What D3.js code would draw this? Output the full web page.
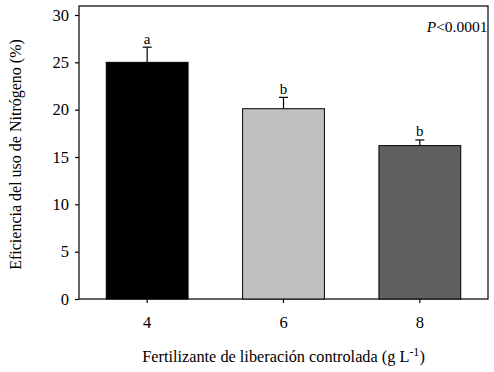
<!DOCTYPE html>
<html>
<head>
	<meta charset="utf-8">
	<title>Eficiencia del uso de nitrógeno</title>
	<script src="https://d3js.org/d3.v7.min.js"></script>
	<style>
		body { margin: 0; background: #fff; }
		text { font-family: "Liberation Serif", "Times New Roman", serif; fill: #000; }
	</style>
</head>
<body>
	<div class="chart"></div>

	<script type="text/javascript">
		// datos
		const doses = ['4', '6', '8']
		const means = [25.0, 20.1, 16.2]
		const errors = [1.6, 1.2, 0.6]
		const letters = ['a', 'b', 'b']
		const barColors = ['#000000', '#c0c0c0', '#606060']
		const yTicks = [0, 5, 10, 15, 20, 25, 30]

		const width = 494
		const height = 372
		const margin = { top: 6, right: 6, bottom: 73, left: 79 }

		const svg = d3.select('.chart').append('svg')
			.attr('width', width)
			.attr('height', height)

		const x = d3.scaleBand(doses, [margin.left, width - margin.right])
			.paddingInner(0.4)
			.paddingOuter(0.2)

		// 30 está en y=15, el marco llega un poco más arriba
		const y = d3.scaleLinear([0, 30], [height - margin.bottom, 15])

		// marco
		svg.append('rect')
			.attr('x', margin.left)
			.attr('y', margin.top)
			.attr('width', width - margin.right - margin.left)
			.attr('height', height - margin.bottom - margin.top)
			.attr('fill', 'none')
			.attr('stroke', '#000')
			.attr('stroke-width', 1.2)

		// barras
		svg.append('g')
			.selectAll('rect')
			.data(doses)
			.join('rect')
			.attr('x', d => x(d))
			.attr('y', (d, i) => y(means[i]))
			.attr('width', x.bandwidth())
			.attr('height', (d, i) => y(0) - y(means[i]))
			.attr('fill', (d, i) => barColors[i])
			.attr('stroke', '#000')
			.attr('stroke-width', 1)

		// barras de error (sólo hacia arriba)
		const eb = svg.append('g').attr('stroke', '#000').attr('stroke-width', 1.2)
		doses.forEach((d, i) => {
			const cx = x(d) + x.bandwidth() / 2
			eb.append('line')
				.attr('x1', cx).attr('x2', cx)
				.attr('y1', y(means[i])).attr('y2', y(means[i] + errors[i]))
			eb.append('line')
				.attr('x1', cx - 4.5).attr('x2', cx + 4.5)
				.attr('y1', y(means[i] + errors[i])).attr('y2', y(means[i] + errors[i]))
		})

		// letras
		svg.append('g')
			.selectAll('text')
			.data(doses)
			.join('text')
			.attr('x', d => x(d) + x.bandwidth() / 2)
			.attr('y', (d, i) => y(means[i] + errors[i]) - 3.5)
			.attr('text-anchor', 'middle')
			.attr('font-size', 15)
			.text((d, i) => letters[i])

		// ejes
		const yAxis = svg.append('g')
			.attr('transform', `translate(${margin.left},0)`)
			.call(d3.axisLeft(y).tickValues(yTicks).tickSize(4).tickPadding(6))
		yAxis.select('.domain').remove()
		yAxis.selectAll('text').attr('font-size', 16.5).attr('font-family', null)
		yAxis.selectAll('line').attr('stroke-width', 1.2)

		const xAxis = svg.append('g')
			.attr('transform', `translate(0,${y(0)})`)
			.call(d3.axisBottom(x).tickSize(4).tickPadding(13))
		xAxis.select('.domain').remove()
		xAxis.selectAll('text').attr('font-size', 16.5).attr('font-family', null)
		xAxis.selectAll('line').attr('stroke-width', 1.2)

		// títulos
		svg.append('text')
			.attr('transform', `translate(21,${(margin.top + y(0)) / 2 + 2}) rotate(-90)`)
			.attr('text-anchor', 'middle')
			.attr('font-size', 16)
			.text('Eficiencia del uso de Nitrógeno (%)')

		const xt = svg.append('text')
			.attr('x', (margin.left + width - margin.right) / 2)
			.attr('y', 362)
			.attr('text-anchor', 'middle')
			.attr('font-size', 16.3)
		xt.append('tspan').text('Fertilizante de liberación controlada (g L')
		xt.append('tspan').attr('dy', -6).attr('font-size', 12).text('-1')
		xt.append('tspan').attr('dy', 6).text(')')

		const pt = svg.append('text')
			.attr('x', width - margin.right - 0.5)
			.attr('y', 32)
			.attr('text-anchor', 'end')
			.attr('font-size', 15.5)
		pt.append('tspan').attr('font-style', 'italic').text('P')
		pt.append('tspan').text('<0.0001')
	</script>
</body>
</html>
